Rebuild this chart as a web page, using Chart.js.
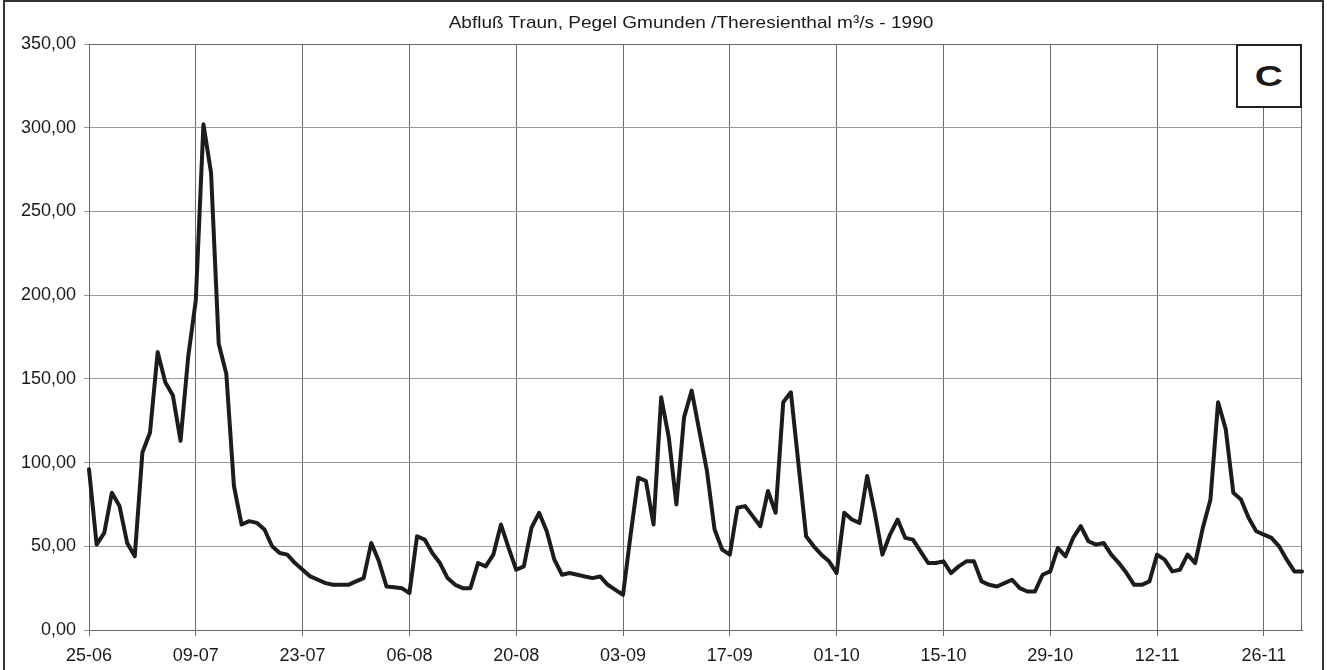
<!DOCTYPE html>
<html lang="de">
<head>
<meta charset="UTF-8">
<title>Abfluß Traun, Pegel Gmunden /Theresienthal 1990</title>
<script src="https://cdn.jsdelivr.net/npm/chart.js"></script>
<style>
    html, body { margin: 0; padding: 0; background: #fff; }
    #wrap { position: relative; width: 1327px; height: 670px; overflow: hidden; font-family: "Liberation Sans", Arial, sans-serif; }
    #chart { position: absolute; left: 0; top: 0; }
    #frame { position: absolute; left: 3px; top: 0; width: 1321px; height: 690px; border: 2px solid #333; box-sizing: border-box; pointer-events: none; }
    #title { position: absolute; left: 691px; top: 14px; font-size: 17px; line-height: 17px; color: #1a1a1a;
             white-space: nowrap; transform: translateX(-50%) scaleX(1.12); }
    #tag { position: absolute; left: 1236px; top: 44px; width: 66px; height: 64px; box-sizing: border-box;
           border: 2px solid #222; background: #fff; display: flex; align-items: center; justify-content: center; }
    #tag span { font-size: 30px; font-weight: bold; color: #1a1a1a; transform: scaleX(1.3); display: inline-block; }
</style>
</head>
<body>
<div id="wrap">
    <canvas id="chart" width="1327" height="670"></canvas>
    <div id="title">Abfluß Traun, Pegel Gmunden /Theresienthal m³/s - 1990</div>
    <div id="tag"><span>C</span></div>
    <div id="frame"></div>
</div>
<script>
// Tagesabfluss in m³/s, ab 25-06-1990
var flow = [
    96, 51, 58, 82, 74, 52, 44, 106, 118, 166,
    148, 140, 113, 163, 197, 302, 273, 171, 153, 86,
    63, 65, 64, 60, 50, 46, 45, 40, 36, 32,
    30, 28, 27, 27, 27, 29, 31, 52, 41, 26,
    25.5, 25, 22, 56, 54, 46, 40, 31, 27, 25,
    25, 40, 38, 45, 63, 49, 36, 38, 61, 70,
    59, 42, 33, 34, 33, 32, 31, 32, 27, 24,
    21, 57, 91, 89, 63, 139, 115, 75, 127, 143,
    119, 95, 60, 48, 45, 73, 74, 68, 62, 83,
    70, 136, 142, 99, 56, 50, 45, 41, 34, 70,
    66, 64, 92, 70, 45, 57, 66, 55, 54, 47,
    40, 40, 41, 34, 38, 41, 41, 29, 27, 26,
    28, 30, 25, 23, 23, 33, 35, 49, 44, 55,
    62, 53, 51, 52, 45, 40, 34, 27, 27, 29,
    45, 42, 35, 36, 45, 40, 61, 78, 136, 120,
    82, 78, 67, 59, 57, 55, 50, 42, 35, 35
];

var tickLabels = ["25-06", "09-07", "23-07", "06-08", "20-08", "03-09", "17-09", "01-10", "15-10", "29-10", "12-11", "26-11"];
var yTicks = [0, 50, 100, 150, 200, 250, 300, 350];

// Kategorien: ein Tag je Wert
var days = flow.map(function(v, i) {
    var d = new Date(1990, 5, 25 + i);
    return String(d.getDate()).padStart(2, "0") + "-" + String(d.getMonth() + 1).padStart(2, "0");
});

var plotBorder = {
    id: "plotBorder",
    beforeDatasetsDraw: function(chart) {
        var a = chart.chartArea, c = chart.ctx;
        c.save();
        c.strokeStyle = "#666";
        c.lineWidth = 1;
        c.strokeRect(a.left + 0.5, a.top + 0.5, a.right - a.left - 1, a.bottom - a.top);
        c.restore();
    }
};

Chart.defaults.font.family = '"Liberation Sans", Arial, sans-serif';
Chart.defaults.color = "#1a1a1a";

new Chart(document.getElementById("chart").getContext("2d"), {
    type: "line",
    data: {
        labels: days,
        datasets: [{
            data: flow,
            borderColor: "#1c1c1c",
            borderWidth: 4,
            pointRadius: 0,
            tension: 0,
            borderJoinStyle: "round",
            borderCapStyle: "round"
        }]
    },
    options: {
        responsive: false,
        devicePixelRatio: 1,
        animation: false,
        layout: { padding: { left: 0, top: 44, right: 25, bottom: 0 } },
        plugins: { legend: { display: false }, tooltip: { enabled: false }, title: { display: false } },
        scales: {
            x: {
                type: "category",
                offset: false,
                afterFit: function(s) { s.height = 40; },
                grid: { color: "#6a6a6a", lineWidth: 1, tickLength: 6 },
                border: { color: "#666" },
                ticks: {
                    autoSkip: false,
                    maxRotation: 0,
                    padding: 9,
                    font: { size: 18 },
                    callback: function(v, i) {
                        var lab = days[i];
                        return tickLabels.indexOf(lab) >= 0 ? lab : null;
                    }
                }
            },
            y: {
                min: yTicks[0],
                max: yTicks[yTicks.length - 1],
                afterFit: function(s) { s.width = 89; },
                grid: { color: "#9a9a9a", lineWidth: 1, tickLength: 5 },
                border: { color: "#555" },
                ticks: {
                    stepSize: 50,
                    padding: 8,
                    font: { size: 18 },
                    callback: function(v) { return yTicks.indexOf(v) >= 0 ? v.toFixed(2).replace(".", ",") : null; }
                }
            }
        }
    },
    plugins: [plotBorder]
});
</script>
</body>
</html>
